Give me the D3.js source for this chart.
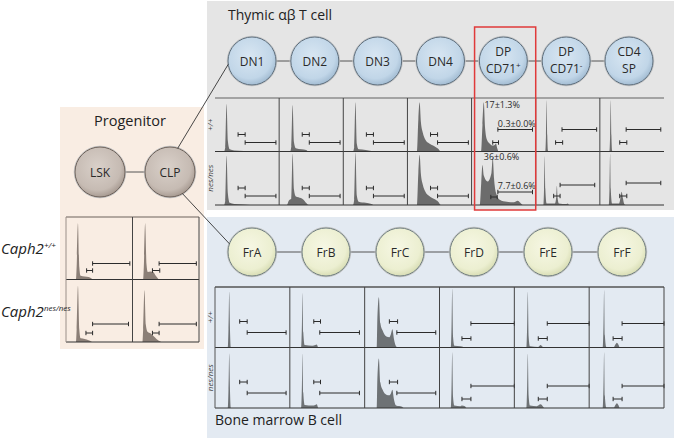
<!DOCTYPE html>
<html>
<head>
<meta charset="utf-8">
<script src="https://cdn.jsdelivr.net/npm/d3@7"></script>
<style>
  body { margin: 0; background: #fff; }
  svg { display: block; font-family: "Open Sans", sans-serif; }
</style>
</head>
<body>
<svg id="fig" width="675" height="440"></svg>
<script>
// stages and genotypes
var thymicStages = ["DN1", "DN2", "DN3", "DN4", "DP CD71+", "DP CD71-", "CD4 SP"];
var thymicLabels = [["DN1"], ["DN2"], ["DN3"], ["DN4"], ["DP", "CD71^+"], ["DP", "CD71^-"], ["CD4", "SP"]];
var bStages = ["FrA", "FrB", "FrC", "FrD", "FrE", "FrF"];
var progStages = ["LSK", "CLP"];
var genotypes = ["+/+", "nes/nes"];

// histograms: [signal (0-100), cell count (% of max)]
var thymicWT = [
  [[0,0],[14,0],[16,8],[18,89],[20,20],[23,4],[30,2],[45,1],[55,0],[100,0]],
  [[0,0],[17,0],[19,10],[21,87],[23,18],[26,6],[35,4],[42,3],[46,0],[100,0]],
  [[0,0],[15,0],[17,8],[19,92],[21,15],[24,4],[35,3],[44,1],[48,0],[100,0]],
  [[0,0],[15,0],[17,60],[19,92],[21,55],[24,35],[28,22],[34,15],[42,10],[48,5],[52,0],[100,0]],
  [[0,0],[15,0],[17,50],[19,92],[21,45],[24,22],[28,15],[33,11],[36,12],[38,15],[40,6],[42,0],[100,0]],
  [[0,0],[15,0],[16,30],[17,96],[18,30],[19,2],[20,0],[100,0]],
  [[0,0],[15,0],[16,30],[17,96],[18,30],[19,2],[20,0],[100,0]]
];
var thymicNes = [
  [[0,0],[14,0],[16,8],[18,92],[20,22],[23,4],[30,2],[45,1],[55,0],[100,0]],
  [[0,0],[12,0],[15,8],[19,12],[21,96],[23,30],[26,16],[34,13],[38,10],[42,4],[46,0],[100,0]],
  [[0,0],[15,0],[17,10],[19,98],[21,18],[24,6],[35,4],[44,2],[48,0],[100,0]],
  [[0,0],[15,0],[17,60],[19,94],[21,58],[24,38],[28,25],[34,17],[42,11],[48,6],[52,0],[100,0]],
  [[0,0],[13,0],[15,40],[17,75],[19,55],[25,44],[31,60],[33,89],[35,50],[38,23],[44,10],[55,6],[66,5],[72,8],[76,4],[80,0],[100,0]],
  [[0,0],[12,0],[13,30],[14,91],[15,30],[17,3],[30,3],[32,15],[33,36],[34,15],[36,3],[48,2],[50,3],[52,0],[100,0]],
  [[0,0],[14,0],[15,30],[16,96],[17,30],[19,3],[30,3],[32,12],[34,25],[36,12],[38,2],[40,0],[100,0]]
];
var bWT = [
  [[0,0],[17,0],[18,30],[19,92],[20,30],[21,0],[100,0]],
  [[0,0],[15,0],[16,30],[17,90],[18,25],[20,4],[30,3],[34,4],[36,5],[38,0],[100,0]],
  [[0,0],[16,0],[17,50],[19,83],[21,40],[24,28],[29,18],[33,17],[35,22],[37,30],[39,15],[42,2],[44,0],[100,0]],
  [[0,0],[15,0],[16,30],[17,97],[18,20],[20,3],[28,2],[32,1],[34,0],[100,0]],
  [[0,0],[16,0],[17,30],[18,92],[19,20],[21,2],[32,1],[35,4],[38,1],[40,0],[100,0]],
  [[0,0],[18,0],[19,30],[20,95],[21,20],[23,1],[33,1],[35,5],[37,8],[39,5],[41,0],[100,0]]
];
var bNes = [
  [[0,0],[17,0],[18,30],[19,90],[20,30],[21,0],[100,0]],
  [[0,0],[15,0],[16,30],[17,90],[18,25],[20,5],[30,4],[34,5],[36,6],[38,0],[100,0]],
  [[0,0],[16,0],[17,50],[19,82],[21,42],[24,30],[29,22],[33,21],[35,24],[37,30],[39,15],[42,4],[50,2],[52,0],[100,0]],
  [[0,0],[15,0],[16,30],[17,92],[18,20],[20,4],[28,3],[30,4],[34,3],[36,0],[100,0]],
  [[0,0],[16,0],[17,30],[18,90],[19,22],[21,4],[30,3],[35,6],[38,3],[40,0],[100,0]],
  [[0,0],[18,0],[19,30],[20,92],[21,20],[23,1],[33,1],[35,5],[37,8],[39,5],[41,0],[100,0]]
];
var progWT = [
  [[0,0],[15,0],[16,20],[18,90],[20,20],[22,6],[28,5],[34,4],[38,2],[40,0],[100,0]],
  [[0,0],[16,0],[17,20],[19,90],[21,25],[23,12],[27,13],[31,12],[35,6],[38,2],[40,0],[100,0]]
];
var progNes = [
  [[0,0],[15,0],[16,20],[18,90],[20,20],[22,6],[28,5],[34,3],[38,1],[40,0],[100,0]],
  [[0,0],[15,0],[16,20],[18,83],[20,28],[23,16],[27,14],[31,10],[36,5],[42,1],[44,0],[100,0]]
];

// gates: [shortLo, shortHi, shortLevel, longLo, longHi, longLevel]
var thymicGatesWT = [
  [36,47,32, 47,95,17], [36,47,32, 47,95,17], [36,47,32, 47,95,17], [36,47,32, 47,95,17],
  [33,42,17, 41,95,42], [31,42,17, 41,95,42], [31,42,17, 41,95,42]
];
var thymicGatesNes = [
  [36,47,32, 47,95,17], [36,47,32, 47,95,17], [36,47,32, 47,95,17], [36,47,32, 47,95,17],
  [30,40,15, 41,95,25], [28,38,17, 38,92,38], [31,42,17, 41,95,42]
];
var bGatesWT = [
  [33,43,43, 43,95,25], [32,41,43, 40,93,25], [33,44,43, 43,95,25],
  [30,42,15, 42,100,40], [32,44,15, 44,100,40], [32,44,15, 44,100,40]
];
var bGatesNes = [
  [33,43,43, 43,95,25], [32,41,43, 40,93,25], [33,44,43, 43,95,25],
  [30,42,15, 42,100,38], [32,44,15, 44,100,38], [32,44,15, 44,100,38]
];
var progGatesWT = [[31,40,16, 40,96,27], [30,41,16, 40,96,27]];
var progGatesNes = [[30,40,16, 40,94,29], [30,40,16, 40,96,30]];

// gate percentages shown for DP CD71+
var dpStats = [
  { genotype: "+/+", text: "17±1.3%", x: 20, y: 81 },
  { genotype: "+/+", text: "0.3±0.0%", x: 41, y: 46 },
  { genotype: "nes/nes", text: "36±0.6%", x: 19, y: 85 },
  { genotype: "nes/nes", text: "7.7±0.6%", x: 41, y: 29 }
];

var svg = d3.select("#fig");
var defs = svg.append("defs");

function addGradient(id, light, mid, dark) {
  var g = defs.append("radialGradient").attr("id", id)
    .attr("cx", "45%").attr("cy", "40%").attr("r", "62%");
  g.append("stop").attr("offset", "0%").attr("stop-color", light);
  g.append("stop").attr("offset", "75%").attr("stop-color", mid);
  g.append("stop").attr("offset", "100%").attr("stop-color", dark);
}
addGradient("gBlue", "#d8e6f2", "#c1d6e8", "#9fb9d0");
addGradient("gYel", "#f6f7e4", "#ecefd1", "#d6dbb1");
addGradient("gTaupe", "#d9d0c9", "#c6bbb3", "#a4978e");

// panels
svg.append("rect").attr("x", 60).attr("y", 107).attr("width", 144).attr("height", 242).attr("fill", "#f9ede3");
svg.append("rect").attr("x", 207).attr("y", 1).attr("width", 467).attr("height", 209).attr("fill", "#e5e5e5");
svg.append("rect").attr("x", 207).attr("y", 217).attr("width", 467).attr("height", 221).attr("fill", "#e3eaf2");

svg.append("text").attr("x", 228).attr("y", 20).attr("font-size", 14).attr("fill", "#222").text("Thymic αβ T cell");
svg.append("text").attr("x", 215).attr("y", 425).attr("font-size", 14).attr("fill", "#222").text("Bone marrow B cell");
svg.append("text").attr("x", 130).attr("y", 126).attr("font-size", 14.5).attr("text-anchor", "middle").attr("fill", "#222").text("Progenitor");

function drawStages(stages, labels, xr, cy, r, grad, stroke) {
  var x = d3.scalePoint().domain(stages).range(xr);
  var g = svg.append("g");
  g.selectAll("line").data(stages.slice(1)).enter().append("line")
    .attr("x1", function(d, i) { return x(stages[i]) + r; })
    .attr("x2", function(d) { return x(d) - r; })
    .attr("y1", cy).attr("y2", cy)
    .attr("stroke", "#555").attr("stroke-width", 1);
  var node = g.selectAll("g.node").data(stages).enter().append("g")
    .attr("transform", function(d) { return "translate(" + x(d) + "," + cy + ")"; });
  node.append("circle").attr("r", r + 0.8).attr("fill", "none").attr("stroke", "#c8c8c8").attr("stroke-width", 1);
  node.append("circle").attr("r", r).attr("fill", "url(#" + grad + ")").attr("stroke", stroke).attr("stroke-width", 1);
  node.each(function(d, i) {
    var lines = labels[i];
    lines.forEach(function(line, j) {
      var parts = line.split("^");
      var dy = lines.length === 1 ? 4.5 : (j === 0 ? -5 : 12);
      var t = d3.select(this).append("text").attr("text-anchor", "middle")
        .attr("font-size", 12).attr("fill", "#2a2a2a").attr("y", dy);
      t.append("tspan").text(parts[0]);
      if (parts[1]) t.append("tspan").attr("font-size", 8).attr("dy", -5).text(parts[1]);
    }, this);
  });
  return x;
}

var xThy = drawStages(thymicStages, thymicLabels, [252, 629], 61, 24, "gBlue", "#5d6d7b");
var xB = drawStages(bStages, bStages.map(function(s) { return [s]; }), [252, 622], 252, 24, "gYel", "#6f7d7e");
var xP = drawStages(progStages, progStages.map(function(s) { return [s]; }), [100, 170], 172, 25, "gTaupe", "#6a5f58");

// links from CLP to the first stage of each lineage
function linkPoint(cx, cy, r, deg) {
  var a = deg * Math.PI / 180;
  return [cx + r * Math.cos(a), cy + r * Math.sin(a)];
}
[[linkPoint(xP("CLP"), 172, 25, -72), linkPoint(xThy("DN1"), 61, 24, 172)],
 [linkPoint(xP("CLP"), 172, 25, 60), linkPoint(xB("FrA"), 252, 24, 200)]].forEach(function(p) {
  svg.append("line").attr("x1", p[0][0]).attr("y1", p[0][1]).attr("x2", p[1][0]).attr("y2", p[1][1])
    .attr("stroke", "#333").attr("stroke-width", 0.9);
});

function drawGrid(cfg) {
  var xs = d3.scaleBand().domain(cfg.stages).range(cfg.xr);
  var ys = d3.scaleBand().domain(genotypes).range(cfg.yr);
  var bw = xs.bandwidth(), bh = ys.bandwidth();
  var hx = d3.scaleLinear().domain([0, 100]).range([0, bw]);
  var hy = d3.scaleLinear().domain([0, 100]).range([bh, 0]);
  var area = d3.area().curve(d3.curveMonotoneX)
    .x(function(d) { return hx(d[0]); }).y0(hy(0)).y1(function(d) { return hy(d[1]); });
  var g = svg.append("g");

  genotypes.forEach(function(gt, r) {
    var hists = r === 0 ? cfg.wt : cfg.nes;
    var gates = r === 0 ? cfg.gatesWT : cfg.gatesNes;
    cfg.stages.forEach(function(st, c) {
      var cell = g.append("g").attr("transform", "translate(" + xs(st) + "," + ys(gt) + ")");
      cell.append("path").datum(hists[c]).attr("d", area).attr("fill", cfg.fill);
      var gt6 = gates[c];
      [[gt6[0], gt6[1], gt6[2]], [gt6[3], gt6[4], gt6[5]]].forEach(function(q) {
        var y = Math.round(hy(q[2])) + 0.5;
        cell.append("line").attr("x1", hx(q[0])).attr("x2", hx(q[1])).attr("y1", y).attr("y2", y)
          .attr("stroke", "#2b2b2b").attr("stroke-width", 1);
        [q[0], q[1]].forEach(function(v) {
          cell.append("line").attr("x1", hx(v)).attr("x2", hx(v)).attr("y1", y - 2.2).attr("y2", y + 2.2)
            .attr("stroke", "#2b2b2b").attr("stroke-width", 1);
        });
      });
      if (cfg.stats && st === cfg.statsStage) {
        cfg.stats.filter(function(s) { return s.genotype === gt; }).forEach(function(s) {
          cell.append("text").attr("x", hx(s.x)).attr("y", hy(s.y)).attr("font-size", 9)
            .attr("fill", "#2a2a2a").text(s.text);
        });
      }
    });
    if (cfg.rowLabels) {
      var cy = ys(gt) + bh / 2;
      g.append("text").attr("transform", "translate(" + (cfg.xr[0] - 2.5) + "," + cy + ") rotate(-90)")
        .attr("text-anchor", "middle").attr("font-size", 8).attr("font-style", "italic")
        .attr("fill", "#444").text(gt);
    }
  });

  // grid lines
  var x0 = cfg.xr[0], x1 = cfg.xr[1];
  g.append("line").attr("x1", x0).attr("x2", x1).attr("y1", cfg.yr[0]).attr("y2", cfg.yr[0])
    .attr("stroke", cfg.topColor).attr("stroke-width", 1.5);
  genotypes.forEach(function(gt) {
    var y = ys(gt) + bh;
    g.append("line").attr("x1", x0).attr("x2", x1).attr("y1", y).attr("y2", y)
      .attr("stroke", "#333").attr("stroke-width", 1.2);
  });
  var vs = cfg.stages.slice(1).map(function(s) { return xs(s); });
  if (cfg.box) vs = [x0].concat(vs).concat([x1]);
  vs.forEach(function(v, i) {
    g.append("line").attr("x1", v).attr("x2", v).attr("y1", cfg.yr[0]).attr("y2", cfg.yr[1])
      .attr("stroke", (cfg.box && i === 0) ? cfg.topColor : "#444").attr("stroke-width", 1);
  });
  return xs;
}

var gThy = drawGrid({ stages: thymicStages, xr: [215, 664], yr: [98, 205], wt: thymicWT, nes: thymicNes,
  gatesWT: thymicGatesWT, gatesNes: thymicGatesNes, fill: "#6c6c6c", topColor: "#8c8c8c",
  box: false, rowLabels: true, stats: dpStats, statsStage: "DP CD71+" });
drawGrid({ stages: bStages, xr: [215, 664], yr: [287, 408], wt: bWT, nes: bNes,
  gatesWT: bGatesWT, gatesNes: bGatesNes, fill: "#6e7275", topColor: "#555",
  box: true, rowLabels: true });
drawGrid({ stages: progStages, xr: [66, 199], yr: [217, 342], wt: progWT, nes: progNes,
  gatesWT: progGatesWT, gatesNes: progGatesNes, fill: "#8b7f77", topColor: "#9a8f88",
  box: true, rowLabels: false });

// highlight box around DP CD71+
var hb = gThy("DP CD71+");
svg.append("rect").attr("x", hb + 3).attr("y", 27).attr("width", gThy.bandwidth() - 3).attr("height", 183)
  .attr("fill", "none").attr("stroke", "#e03a3a").attr("stroke-width", 1.5);

// genotype labels for progenitor rows
[["Caph2", "+/+", 254], ["Caph2", "nes/nes", 317]].forEach(function(l) {
  var t = svg.append("text").attr("x", 1).attr("y", l[2]).attr("font-size", 15)
    .attr("font-style", "italic").attr("fill", "#222");
  t.append("tspan").text(l[0]);
  t.append("tspan").attr("font-size", 8).attr("dy", -6).text(l[1]);
});
</script>
</body>
</html>
